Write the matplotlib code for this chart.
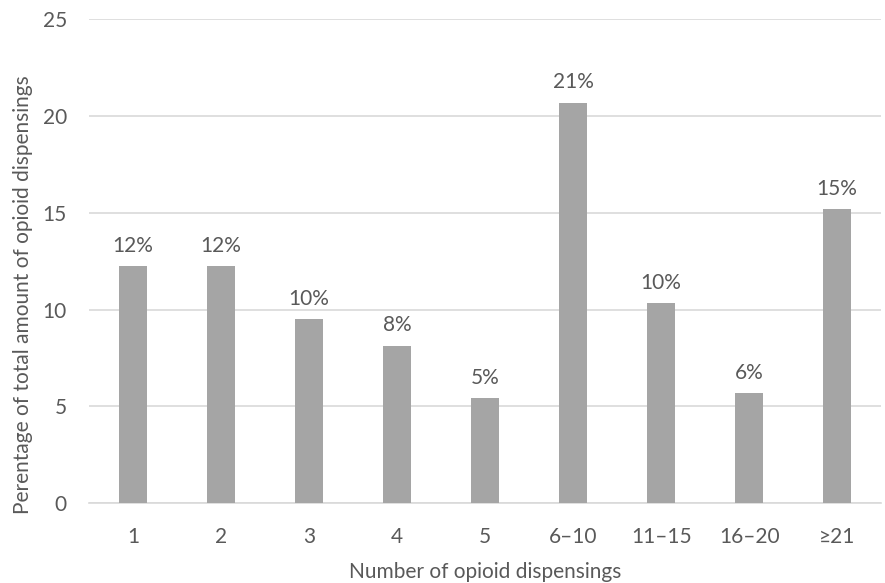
import numpy as np
import matplotlib
matplotlib.use('Agg')
import matplotlib.pyplot as plt

categories = ['1', '2', '3', '4', '5', '6\u201310', '11\u201315', '16\u201320', '\u226521']
values = [12.25, 12.25, 9.52, 8.14, 5.42, 20.68, 10.33, 5.68, 15.19]
bar_labels = ['12%', '12%', '10%', '8%', '5%', '21%', '10%', '6%', '15%']

text_col = '#595959'
fs = 15
plt.rcParams['font.family'] = ['Lato', 'DejaVu Sans']

fig = plt.figure(figsize=(8.85, 5.83), dpi=100)
ax = fig.add_axes([0.1006, 0.1367, 0.895, 0.8303])

x = np.arange(len(categories))
ax.bar(x, values, width=0.31, color='#a5a5a5', zorder=3)

for xi, v, lab in zip(x, values, bar_labels):
    ax.annotate(lab, (xi, v), xytext=(0, 7.5), textcoords='offset points',
                ha='center', va='bottom', fontsize=fs, color=text_col)

ax.set_xlim(-0.5, len(categories) - 0.5)
ax.set_ylim(0, 25)
ax.set_yticks([0, 5, 10, 15, 20, 25])
ax.set_xticks(x)
ax.set_xticklabels(categories)
ax.yaxis.grid(True, color='#d9d9d9', linewidth=1.2, zorder=0)
ax.set_axisbelow(True)
for s in ['top', 'right', 'left']:
    ax.spines[s].set_visible(False)
ax.spines['bottom'].set_color('#d9d9d9')
ax.spines['bottom'].set_linewidth(1.2)
ax.tick_params(axis='both', length=0, labelsize=fs, colors=text_col)
ax.tick_params(axis='y', pad=16)
ax.tick_params(axis='x', pad=17)

ax.set_xlabel('Number of opioid dispensings', fontsize=fs, color=text_col, labelpad=11)
ax.set_ylabel('Perentage of total amount of opioid dispensings', fontsize=fs,
              color=text_col, va='center')
ax.yaxis.set_label_coords(-0.083, 0.432)

fig.savefig('out.png', dpi=100)
